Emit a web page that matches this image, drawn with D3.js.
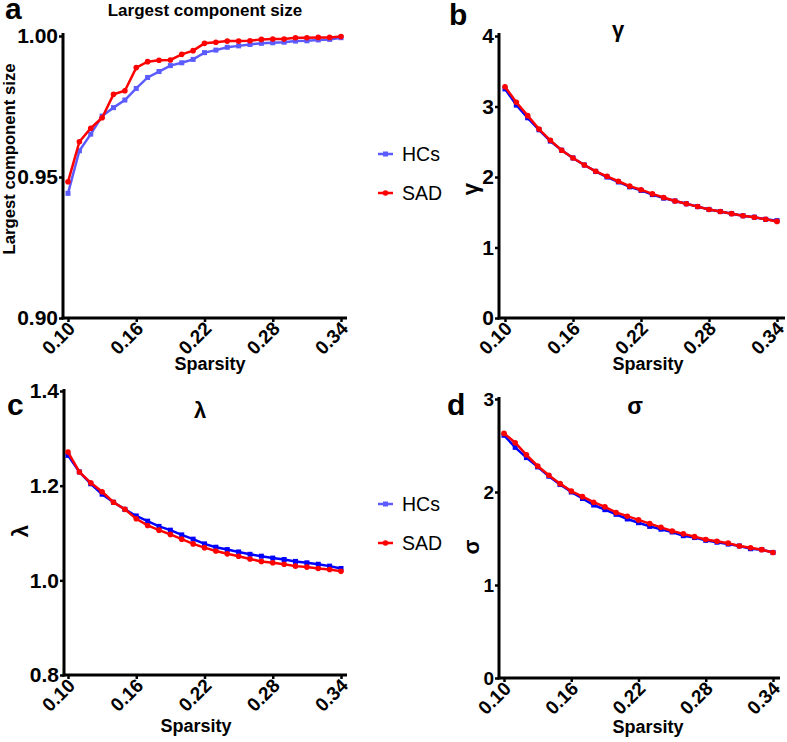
<!DOCTYPE html>
<html><head><meta charset="utf-8">
<script src="https://cdn.jsdelivr.net/npm/d3@7"></script>
<style>
body{margin:0;background:#fff}
svg{display:block}
text{font-family:Arial,"Liberation Sans",Helvetica,sans-serif}
</style>
</head><body>
<svg id="chart" width="787" height="742"></svg>
<script>
// ---------- data ----------
const sparsity = [0.10,0.11,0.12,0.13,0.14,0.15,0.16,0.17,0.18,0.19,0.20,0.21,0.22,0.23,0.24,0.25,0.26,0.27,0.28,0.29,0.30,0.31,0.32,0.33,0.34];
const seriesNames = ["HCs","SAD"];

const lcsHCs = [0.9442,0.9593,0.9652,0.9716,0.9746,0.9773,0.9814,0.9853,0.9874,0.9895,0.9905,0.9917,0.9941,0.9950,0.9960,0.9965,0.9970,0.9974,0.9976,0.9978,0.9982,0.9983,0.9986,0.9988,0.9994];
const lcsSAD = [0.9483,0.9625,0.9673,0.9710,0.9793,0.9806,0.9888,0.9909,0.9914,0.9915,0.9935,0.9948,0.9974,0.9978,0.9982,0.9982,0.9983,0.9988,0.9989,0.9989,0.9994,0.9994,0.9995,0.9995,0.9998];

const gammaHCs = [3.25,3.02,2.84,2.67,2.51,2.38,2.27,2.17,2.08,2.00,1.93,1.86,1.81,1.75,1.70,1.66,1.62,1.58,1.54,1.51,1.48,1.45,1.43,1.40,1.38];
const gammaSAD = [3.28,3.06,2.87,2.68,2.52,2.38,2.27,2.17,2.08,2.01,1.94,1.87,1.82,1.76,1.71,1.66,1.62,1.58,1.54,1.51,1.48,1.45,1.43,1.40,1.37];

const lambdaHCs = [1.264,1.229,1.204,1.182,1.165,1.150,1.136,1.125,1.114,1.106,1.096,1.087,1.077,1.070,1.065,1.060,1.055,1.051,1.047,1.044,1.040,1.037,1.034,1.030,1.025];
const lambdaSAD = [1.271,1.229,1.206,1.187,1.165,1.150,1.130,1.116,1.106,1.097,1.087,1.077,1.069,1.062,1.056,1.051,1.045,1.040,1.037,1.034,1.030,1.028,1.025,1.023,1.019];

const sigmaHCs = [2.61,2.48,2.37,2.27,2.17,2.08,2.00,1.93,1.86,1.81,1.76,1.71,1.67,1.63,1.60,1.57,1.53,1.51,1.48,1.46,1.44,1.42,1.39,1.38,1.35];
const sigmaSAD = [2.63,2.53,2.40,2.28,2.18,2.09,2.01,1.95,1.89,1.84,1.78,1.74,1.70,1.66,1.62,1.58,1.55,1.52,1.49,1.47,1.45,1.42,1.40,1.38,1.35];

const xTickValues = [0.10,0.16,0.22,0.28,0.34];
const lcsTicks = [0.90,0.95,1.00];
const gammaTicks = [0,1,2,3,4];
const lambdaTicks = [0.8,1.0,1.2,1.4];
const sigmaTicks = [0,1,2,3];

// ---------- layout ----------
const panels = [
  {letter:"a", title:"Largest component size", titleSize:17, ylabel:"Largest component size", ylabelSize:16.7,
   hcs:lcsHCs, sad:lcsSAD, yDomain:[0.90,1.00], yTicks:lcsTicks, yFmt:".2f", hcsColor:"#5b5bff", yTickSize:21,
   axisX:63, xRange:[68,341], xEnd:347, yRange:[318,36], yTop:33,
   letterPos:[5,19], titlePos:[205,16], ylabelPos:[15,159], xlabelPos:[210,370],
   legend:[378,154]},
  {letter:"b", title:"γ", titleSize:22, ylabel:"γ", ylabelSize:22,
   hcs:gammaHCs, sad:gammaSAD, yDomain:[0,4], yTicks:gammaTicks, yFmt:"d", hcsColor:"#0000ff", yTickSize:21,
   axisX:499, xRange:[505,777], xEnd:785, yRange:[318,36], yTop:33,
   letterPos:[449,25], titlePos:[618,37], ylabelPos:[478,189], xlabelPos:[648,370]},
  {letter:"c", title:"λ", titleSize:22, ylabel:"λ", ylabelSize:22,
   hcs:lambdaHCs, sad:lambdaSAD, yDomain:[0.8,1.4], yTicks:lambdaTicks, yFmt:".1f", hcsColor:"#0000ff", yTickSize:21,
   axisX:64, xRange:[68,341], xEnd:347, yRange:[675,391], yTop:389,
   letterPos:[7,415], titlePos:[200,418], ylabelPos:[28,531], xlabelPos:[196,732],
   legend:[378,504]},
  {letter:"d", title:"σ", titleSize:23, ylabel:"σ", ylabelSize:22,
   hcs:sigmaHCs, sad:sigmaSAD, yDomain:[0,3], yTicks:sigmaTicks, yFmt:"d", hcsColor:"#0000ff", yTickSize:19,
   axisX:499, xRange:[504,773], xEnd:780, yRange:[678,399], yTop:397,
   letterPos:[447,415], titlePos:[635,414], ylabelPos:[479,547], xlabelPos:[648,733]}
];

const svg = d3.select("#chart");
const RED = "#ff0000";
const LEG_BLUE = "#5b5bff";

function drawSquares(g, pts, color, s) {
  g.selectAll(null).data(pts).join("rect")
    .attr("x", d => d[0] - s/2).attr("y", d => d[1] - s/2)
    .attr("width", s).attr("height", s).attr("fill", color);
}
function drawCircles(g, pts, color, r) {
  g.selectAll(null).data(pts).join("circle")
    .attr("cx", d => d[0]).attr("cy", d => d[1]).attr("r", r).attr("fill", color);
}

panels.forEach(p => {
  const x = d3.scaleLinear().domain([sparsity[0], sparsity[sparsity.length-1]]).range(p.xRange);
  const y = d3.scaleLinear().domain(p.yDomain).range(p.yRange);
  const g = svg.append("g");
  const yBase = p.yRange[0];

  // y axis
  const ya = g.append("g").attr("transform", `translate(${p.axisX},0)`)
    .call(d3.axisLeft(y).tickValues(p.yTicks).tickFormat(d3.format(p.yFmt)).tickSize(4).tickPadding(1).tickSizeOuter(0));
  ya.select(".domain").remove();
  ya.selectAll(".tick line").attr("stroke","#000").attr("stroke-width",2.5);
  ya.selectAll(".tick text").attr("font-size",p.yTickSize).attr("font-weight","bold").attr("fill","#000")
    .attr("font-family","Arial, 'Liberation Sans', sans-serif");

  // x axis
  const xa = g.append("g").attr("transform", `translate(0,${yBase})`)
    .call(d3.axisBottom(x).tickValues(xTickValues).tickFormat(d3.format(".2f")).tickSize(4).tickSizeOuter(0));
  xa.select(".domain").remove();
  xa.selectAll(".tick line").attr("stroke","#000").attr("stroke-width",2.5);
  xa.selectAll(".tick text")
    .attr("y", null).attr("dy","0.35em")
    .attr("transform","translate(3,7) rotate(-45)")
    .attr("text-anchor","end")
    .attr("font-size",19).attr("font-weight","bold").attr("fill","#000")
    .attr("font-family","Arial, 'Liberation Sans', sans-serif");

  // axis lines
  g.append("line").attr("x1",p.axisX).attr("x2",p.axisX).attr("y1",p.yTop).attr("y2",yBase+1.5)
    .attr("stroke","#000").attr("stroke-width",3);
  g.append("line").attr("x1",p.axisX-1.5).attr("x2",p.xEnd).attr("y1",yBase).attr("y2",yBase)
    .attr("stroke","#000").attr("stroke-width",3);

  // series
  const line = d3.line().x(d => x(d[0])).y(d => y(d[1]));
  const hcsPts = sparsity.map((s,i) => [s, p.hcs[i]]);
  const sadPts = sparsity.map((s,i) => [s, p.sad[i]]);
  g.append("path").datum(hcsPts).attr("d", line).attr("fill","none").attr("stroke",p.hcsColor).attr("stroke-width",2.5);
  drawSquares(g.append("g"), hcsPts.map(d => [x(d[0]), y(d[1])]), p.hcsColor, 5);
  g.append("path").datum(sadPts).attr("d", line).attr("fill","none").attr("stroke",RED).attr("stroke-width",2.5);
  drawCircles(g.append("g"), sadPts.map(d => [x(d[0]), y(d[1])]), RED, 2.8);

  // texts
  g.append("text").attr("x",p.letterPos[0]).attr("y",p.letterPos[1]).text(p.letter)
    .attr("font-size",30).attr("font-weight","bold");
  g.append("text").attr("x",p.titlePos[0]).attr("y",p.titlePos[1]).text(p.title)
    .attr("text-anchor","middle").attr("font-size",p.titleSize).attr("font-weight","bold");
  g.append("text").attr("transform",`translate(${p.ylabelPos[0]},${p.ylabelPos[1]}) rotate(-90)`)
    .text(p.ylabel).attr("text-anchor","middle").attr("font-size",p.ylabelSize).attr("font-weight","bold");
  g.append("text").attr("x",p.xlabelPos[0]).attr("y",p.xlabelPos[1]).text("Sparsity")
    .attr("text-anchor","middle").attr("font-size",18).attr("font-weight","bold");

  // legend
  if (p.legend) {
    const [lx, ly] = p.legend;
    const colors = [LEG_BLUE, RED];
    seriesNames.forEach((name, i) => {
      const yy = ly + i * 39;
      g.append("line").attr("x1",lx).attr("x2",lx+15).attr("y1",yy).attr("y2",yy)
        .attr("stroke",colors[i]).attr("stroke-width",2.5);
      if (i === 0) drawSquares(g.append("g"), [[lx+7.5, yy]], colors[i], 5);
      else drawCircles(g.append("g"), [[lx+7.5, yy]], colors[i], 2.8);
      g.append("text").attr("x",lx+24).attr("y",yy).attr("dy","0.36em").text(name)
        .attr("font-size",19.5).attr("fill","#000");
    });
  }
});
</script>
</body></html>
